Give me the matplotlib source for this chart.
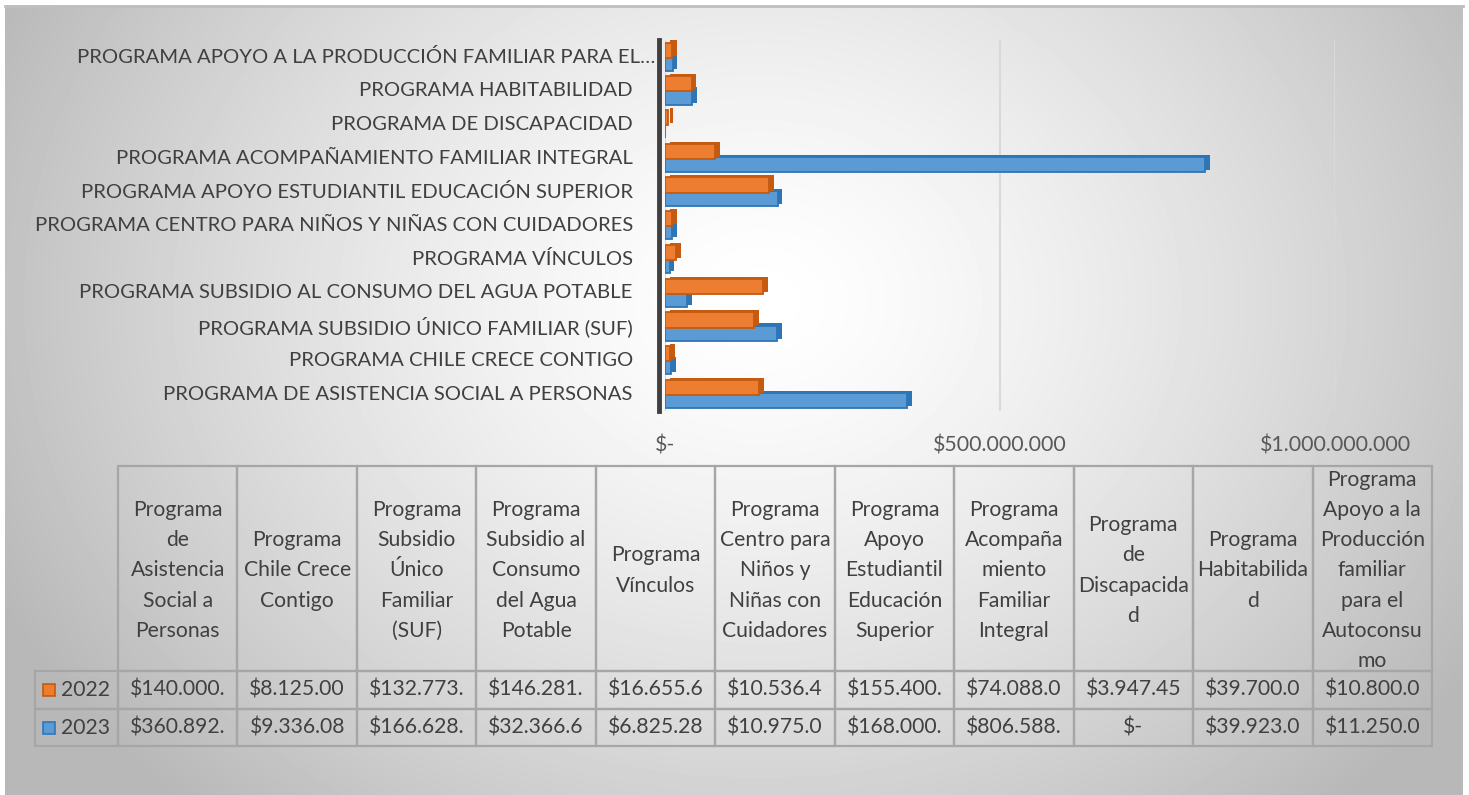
import numpy as np
import matplotlib.pyplot as plt
import matplotlib.patheffects as pe
from matplotlib.patches import Rectangle

plt.rcParams['font.family'] = ['Lato', 'DejaVu Sans']

# Datos (orden de la tabla; en el gráfico de abajo hacia arriba)
etiquetas_eje = [
    'PROGRAMA DE ASISTENCIA SOCIAL A PERSONAS',
    'PROGRAMA CHILE CRECE CONTIGO',
    'PROGRAMA SUBSIDIO ÚNICO FAMILIAR (SUF)',
    'PROGRAMA SUBSIDIO AL CONSUMO DEL AGUA POTABLE',
    'PROGRAMA VÍNCULOS',
    'PROGRAMA CENTRO PARA NIÑOS Y NIÑAS CON CUIDADORES',
    'PROGRAMA APOYO ESTUDIANTIL EDUCACIÓN SUPERIOR',
    'PROGRAMA ACOMPAÑAMIENTO FAMILIAR INTEGRAL',
    'PROGRAMA DE DISCAPACIDAD',
    'PROGRAMA HABITABILIDAD',
    'PROGRAMA APOYO A LA PRODUCCIÓN FAMILIAR PARA EL…',
]
encabezados = [
    'Programa\nde\nAsistencia\nSocial a\nPersonas',
    'Programa\nChile Crece\nContigo',
    'Programa\nSubsidio\nÚnico\nFamiliar\n(SUF)',
    'Programa\nSubsidio al\nConsumo\ndel Agua\nPotable',
    'Programa\nVínculos',
    'Programa\nCentro para\nNiños y\nNiñas con\nCuidadores',
    'Programa\nApoyo\nEstudiantil\nEducación\nSuperior',
    'Programa\nAcompaña\nmiento\nFamiliar\nIntegral',
    'Programa\nde\nDiscapacida\nd',
    'Programa\nHabitabilida\nd',
    'Programa\nApoyo a la\nProducción\nfamiliar\npara el\nAutoconsu\nmo',
]
anios = ['2022', '2023']
monto_2022 = [140000000, 8125000, 132773000, 146281000, 16655600, 10536400,
              155400000, 74088000, 3947450, 39700000, 10800000]
monto_2023 = [360892000, 9336080, 166628000, 32366600, 6825280, 10975000,
              168000000, 806588000, 0, 39923000, 11250000]
ticks_x = [0, 500000000, 1000000000]

naranja, naranja_borde = '#ED7D31', '#C55A11'
azul, azul_borde = '#5B9BD5', '#2E75B6'
gris_texto = '#404040'


def pesos(v):
    if v == 0:
        return '$-'
    return '$' + f'{v:,.0f}'.replace(',', '.')


W, H = 1469, 795
fig = plt.figure(figsize=(W / 100, H / 100), dpi=100)

# Fondo con degradado radial
bg = fig.add_axes([0, 0, 1, 1], zorder=0)
bg.set_xlim(0, W)
bg.set_ylim(H, 0)
bg.axis('off')
xx, yy = np.meshgrid(np.linspace(5, 1463, 300), np.linspace(5, 795, 160))
d = np.sqrt(((xx - 760) / 760) ** 2 + ((yy - 300) / 620) ** 2)
val = np.clip(1 - 0.24 * d ** 1.4, 0.72, 1)
bg.imshow(val, cmap='gray', vmin=0, vmax=1, extent=(5, 1463, 795, 5),
          aspect='auto', interpolation='bilinear')
bg.plot([5, 1463], [5.5, 5.5], color='#bfbfbf', lw=2)

# Gráfico de barras
y = np.arange(len(etiquetas_eje))
ax = fig.add_axes([665 / W, 1 - 411 / H, 670 / W, 371 / H], zorder=2)
ax.patch.set_alpha(0)
b23 = ax.barh(y - 0.19, monto_2023, height=0.45, color=azul, edgecolor=azul_borde,
              linewidth=1.3, zorder=3)
b22 = ax.barh(y + 0.2, monto_2022, height=0.45, color=naranja,
              edgecolor=naranja_borde, linewidth=1.3, zorder=4)
# efecto de profundidad (3D)
for barras, cb in [(b23, azul_borde), (b22, naranja_borde)]:
    for r in barras:
        r.set_path_effects([pe.SimplePatchShadow(offset=(3.5, 1.5),
                                                 shadow_rgbFace=cb, alpha=1),
                            pe.Normal()])
ax.set_xlim(0, 1e9)
ax.set_ylim(-0.5, len(y) - 0.5)
ax.set_xticks(ticks_x)
ax.set_xticklabels([pesos(t) for t in ticks_x])
ax.tick_params(axis='x', length=0, pad=18, labelsize=15.4, labelcolor='#595959')
ax.set_yticks([])
ax.grid(axis='x', color='#d9d9d9', lw=1.5, zorder=0)
for s in ['top', 'right', 'bottom']:
    ax.spines[s].set_visible(False)
ax.spines['left'].set_color('#404040')
ax.spines['left'].set_linewidth(3.5)
ax.spines['left'].set_position(('outward', 4))

for i, lab in enumerate(etiquetas_eje):
    xr = -0.015 if lab.endswith('…') else -0.048
    ax.text(xr, i, lab, transform=ax.get_yaxis_transform(), ha='right',
            va='center', fontsize=14.6, color=gris_texto)

# Tabla de datos
col_x = np.linspace(118, 1432, len(encabezados) + 1)
fila_y = [466, 671, 709, 746]
borde = '#a6a6a6'
for j, enc in enumerate(encabezados):
    x0, x1 = col_x[j], col_x[j + 1]
    bg.add_patch(Rectangle((x0, fila_y[0]), x1 - x0, fila_y[1] - fila_y[0],
                           fill=False, ec=borde, lw=1.6))
    bg.text((x0 + x1) / 2, (fila_y[0] + fila_y[1]) / 2 + 2, enc, ha='center',
            va='center', fontsize=15.2, color=gris_texto, linespacing=1.64)

for k, (anio, montos, c, cb) in enumerate(zip(anios, [monto_2022, monto_2023],
                                              [naranja, azul],
                                              [naranja_borde, azul_borde])):
    y0, y1 = fila_y[k + 1], fila_y[k + 2]
    yc = (y0 + y1) / 2
    bg.add_patch(Rectangle((35, y0), col_x[0] - 35, y1 - y0, fill=False,
                           ec=borde, lw=1.6))
    bg.add_patch(Rectangle((43, yc - 6), 12, 12, fc=c, ec=cb, lw=1.2))
    bg.text(61, yc, anio, ha='left', va='center', fontsize=15.2, color=gris_texto)
    for j, v in enumerate(montos):
        x0, x1 = col_x[j], col_x[j + 1]
        bg.add_patch(Rectangle((x0, y0), x1 - x0, y1 - y0, fill=False,
                               ec=borde, lw=1.6))
        bg.text((x0 + x1) / 2, yc, pesos(v)[:9], ha='center', va='center',
                fontsize=15.2, color=gris_texto)

fig.savefig('out.png', dpi=100)
